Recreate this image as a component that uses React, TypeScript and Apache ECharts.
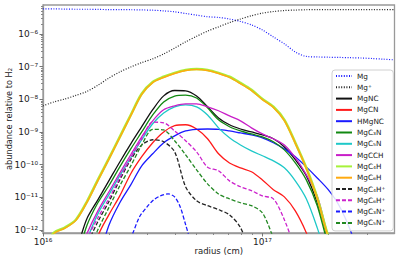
import React, { useEffect, useRef } from "react";
import * as echarts from "echarts";

// log10(radius / cm) sample grid
const logRadius = [
  16.0, 16.05, 16.1, 16.15, 16.2, 16.25, 16.3, 16.35, 16.4, 16.45, 16.5, 16.55, 16.6, 16.65, 16.7, 16.75, 16.8,
  16.85, 16.9, 16.95, 17.0, 17.05, 17.1, 17.15, 17.2, 17.25, 17.3, 17.35, 17.4, 17.45, 17.5, 17.55, 17.6,
];

// log10(abundance relative to H2)
const mg = [
  -5.23, -5.23, -5.235, -5.24, -5.24, -5.245, -5.25, -5.25, -5.255, -5.26, -5.27, -5.29, -5.32, -5.37, -5.42, -5.47,
  -5.49, -5.54, -5.615, -5.72, -5.875, -6.09, -6.3, -6.55, -6.686, -6.702, -6.71, -6.717, -6.725, -6.735, -6.75, -6.77,
  -6.79,
];
const mgPlus = [
  -8.2, -8.08, -7.99, -7.88, -7.76, -7.57, -7.35, -7.16, -7.01, -6.875, -6.76, -6.61, -6.43, -6.24, -6.07, -5.91,
  -5.78, -5.65, -5.54, -5.44, -5.36, -5.31, -5.28, -5.265, -5.255, -5.25, -5.25, -5.25, -5.25, -5.25, -5.25, -5.25,
  -5.25,
];
const mgNC = [
  null, null, -13.0, -12.6, -11.66, -11.08, -10.5, -9.92, -9.365, -8.84, -8.32, -7.895, -7.73, -7.74, -7.9, -8.23,
  -8.57, -8.78, -8.91, -9.0, -9.09, -9.21, -9.46, -9.85, -10.34, -11.17, -12.3, -13.0, null, null, null, null, null,
];
const mgCN = [
  null, null, null, null, -13.5, -12.2, -11.54, -10.96, -10.28, -9.76, -9.33, -9.0, -8.81, -8.78, -8.91, -9.21, -9.67,
  -9.95, -10.1, -10.22, -10.47, -10.77, -10.99, -11.42, -12.09, -13.0, null, null, null, null, null, null, null,
];
const hMgNC = [
  null, null, null, null, null, -13.0, -11.87, -11.17, -10.62, -10.04, -9.67, -9.33, -9.12, -8.97, -8.92, -8.91,
  -8.92, -8.97, -9.03, -9.09, -9.18, -9.33, -9.52, -9.76, -10.07, -10.41, -10.77, -11.26, -12.0, -13.0, null, null,
  null,
];
const mgC3N = [
  null, null, null, -13.0, -11.87, -11.17, -10.65, -10.07, -9.52, -9.0, -8.48, -8.08, -7.9, -7.87, -7.96, -8.26, -8.63,
  -8.84, -8.97, -9.06, -9.15, -9.3, -9.55, -9.95, -10.47, -11.26, -12.45, -13.2, null, null, null, null, null,
];
const mgC5N = [
  null, null, null, -13.2, -12.3, -11.51, -10.93, -10.34, -9.79, -9.24, -8.75, -8.42, -8.23, -8.17, -8.23, -8.48,
  -8.875, -9.18, -9.4, -9.58, -9.73, -9.885, -10.1, -10.5, -11.05, -11.94, -13.0, null, null, null, null, null, null,
];
const mgCCH = [
  null, null, null, -13.0, -12.12, -11.42, -10.84, -10.26, -9.7, -9.15, -8.66, -8.32, -8.2, -8.14, -8.14, -8.23, -8.35,
  -8.51, -8.66, -8.875, -9.06, -9.21, -9.4, -9.79, -10.31, -10.96, -12.18, -13.0, null, null, null, null, null,
];
const mgC4H = [
  -12.6, -12.09, -11.93, -11.69, -11.14, -10.47, -9.82, -9.15, -8.48, -7.83, -7.47, -7.31, -7.19, -7.1, -7.07, -7.1,
  -7.19, -7.31, -7.5, -7.71, -7.99, -8.23, -8.63, -9.33, -10.1, -11.02, -12.2, -13.0, null, null, null, null, null,
];
const mgC6H = [
  -12.62, -12.11, -11.95, -11.71, -11.16, -10.49, -9.84, -9.17, -8.5, -7.85, -7.49, -7.33, -7.21, -7.12, -7.09, -7.12,
  -7.21, -7.33, -7.52, -7.73, -8.01, -8.25, -8.65, -9.35, -10.12, -11.04, -12.22, -13.0, null, null, null, null, null,
];
const mgC4HPlus = [
  null, null, null, -13.2, -12.46, -11.75, -11.14, -10.47, -9.85, -9.4, -9.24, -9.3, -9.61, -10.68, -11.11, -11.26,
  -11.38, -11.54, -11.93, -12.8, null, null, null, null, null, null, null, null, null, null, null, null, null,
];
const mgC6HPlus = [
  null, null, null, -13.2, -12.3, -11.63, -11.05, -10.41, -9.79, -9.21, -8.7, -8.72, -8.97, -9.27, -9.61, -10.08,
  -10.19, -10.5, -10.68, -10.8, -10.96, -11.05, -11.69, -12.6, null, null, null, null, null, null, null, null, null,
];
const mgC5NPlus = [
  null, null, null, -13.4, -12.8, -12.0, -11.32, -10.65, -10.04, -9.4, -8.92, -8.94, -9.27, -9.7, -10.16, -10.59, -10.9,
  -11.05, -11.17, -11.26, -11.48, -12.24, -13.0, null, null, null, null, null, null, null, null, null, null,
];
// MgC3N+ has its own finer radius samples
const logRadiusC3NPlus = [16.385, 16.41, 16.44, 16.475, 16.505, 16.535, 16.57, 16.6, 16.625, 16.65, 16.67];
const mgC3NPlus = [-12.45, -12.09, -11.6, -11.29, -11.08, -10.96, -10.9, -10.99, -11.29, -11.84, -12.3];

const xMajor = [16, 17];
const yMajor = [-12, -11, -10, -9, -8, -7, -6];

const X_MIN = 16;
const X_MAX = Math.log10(4e17);
const Y_MIN = Math.log10(8e-13);
const Y_MAX = Math.log10(7.76e-6);

const SUP: Record<string, string> = {
  "0": "⁰", "1": "¹", "2": "²", "3": "³", "4": "⁴", "5": "⁵", "6": "⁶", "7": "⁷", "8": "⁸", "9": "⁹", "-": "⁻",
};
const pow10Label = (v: number) =>
  "10" +
  String(Math.round(v))
    .split("")
    .map((c) => SUP[c] || c)
    .join("");

const minorTicks = (lo: number, hi: number) => {
  const out: number[] = [];
  for (let d = Math.floor(lo) - 1; d <= Math.ceil(hi); d++) {
    for (let k = 2; k <= 9; k++) {
      const v = d + Math.log10(k);
      if (v > lo && v < hi) out.push(v);
    }
  }
  return out;
};

const FONT = "DejaVu Sans";

function line(
  name: string,
  xs: number[],
  ys: (number | null)[],
  color: string,
  width: number,
  type: any
) {
  const data: number[][] = [];
  xs.forEach((x, i) => {
    const y = ys[i];
    if (y !== null && y !== undefined) data.push([x, y]);
  });
  return {
    name,
    type: "line",
    data,
    symbol: "none",
    showSymbol: false,
    smooth: 0.3,
    clip: true,
    silent: true,
    lineStyle: { color, width, type },
    itemStyle: { color },
  };
}

const DOT = [1, 1.6];
const DASH = [4, 2];

export default function App() {
  const ref = useRef<HTMLDivElement>(null);
  useEffect(() => {
    const chart = echarts.init(ref.current!, null, { renderer: "svg" });
    const series = [
      line("Mg", logRadius, mg, "#1a1aff", 1.2, DOT),
      line("Mg⁺", logRadius, mgPlus, "#222222", 1.2, DOT),
      line("MgNC", logRadius, mgNC, "#111111", 1.3, "solid"),
      line("MgCN", logRadius, mgCN, "#ff1a1a", 1.3, "solid"),
      line("HMgNC", logRadius, hMgNC, "#1a1aff", 1.3, "solid"),
      line("MgC₃N", logRadius, mgC3N, "#118811", 1.3, "solid"),
      line("MgC₅N", logRadius, mgC5N, "#1ec8c8", 1.3, "solid"),
      line("MgCCH", logRadius, mgCCH, "#c81ec8", 1.3, "solid"),
      line("MgC₄H", logRadius, mgC4H, "#a6f23a", 2.6, "solid"),
      line("MgC₆H", logRadius, mgC6H, "#ffaa10", 1.5, "solid"),
      line("MgC₄H⁺", logRadius, mgC4HPlus, "#222222", 1.3, DASH),
      line("MgC₆H⁺", logRadius, mgC6HPlus, "#cc22cc", 1.3, DASH),
      line("MgC₃N⁺", logRadiusC3NPlus, mgC3NPlus, "#1a1aff", 1.3, DASH),
      line("MgC₅N⁺", logRadius, mgC5NPlus, "#228822", 1.3, DASH),
    ];
    const axisColor = "#999999";
    chart.setOption({
      animation: false,
      backgroundColor: "#ffffff",
      textStyle: { fontFamily: FONT },
      grid: {
        left: 43,
        right: 4.5,
        top: 5,
        bottom: 33,
        show: true,
        borderColor: axisColor,
        borderWidth: 1.3,
        backgroundColor: "transparent",
        containLabel: false,
        outerBoundsMode: "none",
      },
      legend: {
        orient: "vertical",
        left: 332,
        top: 70,
        itemWidth: 16,
        itemHeight: 8,
        itemGap: 3.3,
        padding: [2, 8, 4, 3],
        backgroundColor: "rgba(255,255,255,0.85)",
        borderColor: "#d0d0d0",
        borderWidth: 1,
        borderRadius: 3,
        selectedMode: false,
        itemStyle: { opacity: 0, borderWidth: 0 },
        textStyle: { fontSize: 7.3, color: "#222", fontFamily: FONT, lineHeight: 8 },
        data: series.map((s) => s.name),
      },
      xAxis: [
        {
          type: "value",
          min: X_MIN,
          max: X_MAX,
          name: "radius (cm)",
          nameLocation: "middle",
          nameGap: 13,
          nameMoveOverlap: false,
          nameTextStyle: { fontSize: 8.5, color: "#222", fontFamily: FONT },
          axisLine: { show: true, lineStyle: { color: axisColor, width: 1.3 } },
          axisTick: { show: true, length: 3.5, customValues: xMajor, lineStyle: { color: "#777" } },
          axisLabel: {
            show: true,
            customValues: xMajor,
            margin: 4,
            fontSize: 9,
            color: "#222",
            fontFamily: FONT,
            formatter: (v: number) => pow10Label(v),
          },
          splitLine: { show: false },
        },
        {
          type: "value",
          min: X_MIN,
          max: X_MAX,
          position: "bottom",
          axisLine: { show: false },
          axisTick: { show: true, length: 2, customValues: minorTicks(X_MIN, X_MAX), lineStyle: { color: "#888" } },
          axisLabel: { show: false },
          splitLine: { show: false },
        },
      ],
      yAxis: [
        {
          type: "value",
          min: Y_MIN,
          max: Y_MAX,
          name: "abundance relative to H₂",
          nameLocation: "middle",
          nameGap: 30,
          nameMoveOverlap: false,
          nameTextStyle: { fontSize: 8.2, color: "#222", fontFamily: FONT },
          axisLine: { show: true, lineStyle: { color: axisColor, width: 1.3 } },
          axisTick: { show: true, length: 3.5, customValues: yMajor, lineStyle: { color: "#777" } },
          axisLabel: {
            show: true,
            customValues: yMajor,
            margin: 5,
            fontSize: 9,
            color: "#222",
            fontFamily: FONT,
            formatter: (v: number) => pow10Label(v),
          },
          splitLine: { show: false },
        },
        {
          type: "value",
          min: Y_MIN,
          max: Y_MAX,
          position: "left",
          axisLine: { show: false },
          axisTick: { show: true, length: 2, customValues: minorTicks(Y_MIN, Y_MAX), lineStyle: { color: "#888" } },
          axisLabel: { show: false },
          splitLine: { show: false },
        },
      ],
      series,
    });
    return () => chart.dispose();
  }, []);
  return (
    <div
      ref={ref}
      style={{ position: "fixed", left: 0, top: 0, width: 399, height: 266, background: "#fff" }}
    />
  );
}
